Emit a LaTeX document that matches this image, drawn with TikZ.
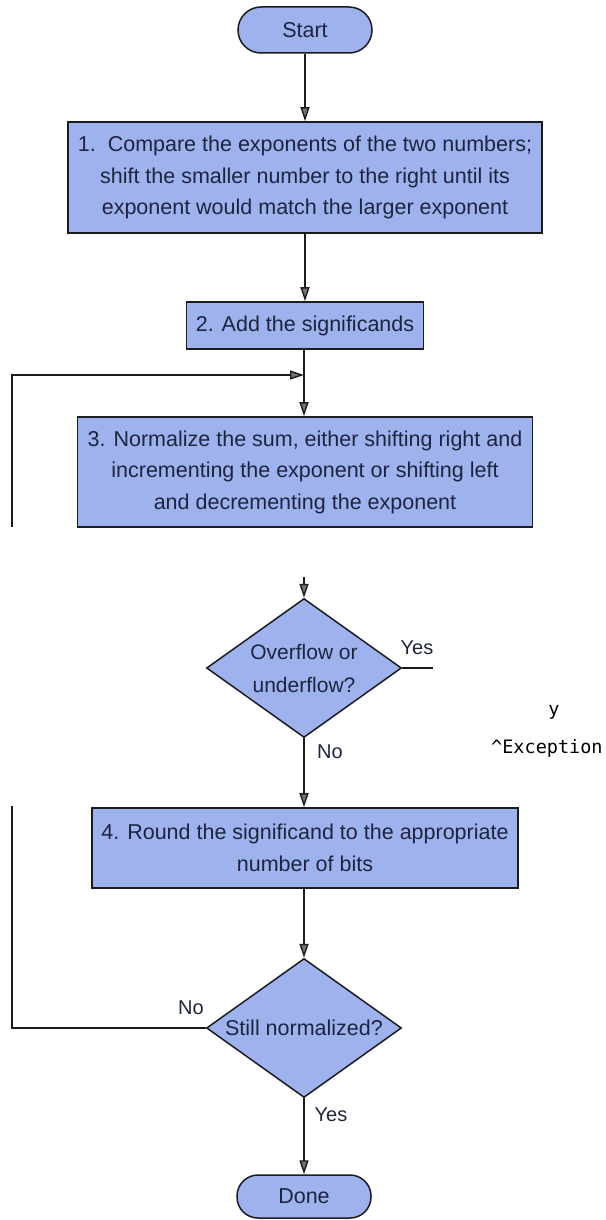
\documentclass[tikz,border=0pt]{standalone}
\usepackage{fontspec}
\setmainfont{Liberation Sans}
\newfontfamily\monofont{DejaVu Sans Mono}
\usetikzlibrary{arrows.meta,shapes.geometric}
\definecolor{boxfill}{RGB}{158,179,238}
\definecolor{ink}{RGB}{30,36,62}
\definecolor{edge}{RGB}{28,28,30}
\tikzset{
  every node/.style={text=ink},
  txt/.style={font=\fontsize{21.5}{31.5}\selectfont},
  pill/.style={txt, draw=edge, line width=1.5pt, fill=boxfill, rounded corners=23pt,
    minimum width=134pt, minimum height=46pt, inner sep=0pt},
  stepbox/.style={txt, draw=edge, line width=1.6pt, fill=boxfill, align=center, inner sep=0pt},
  decision/.style={txt, draw=edge, line width=1.5pt, fill=boxfill, diamond, aspect=1.4,
    align=center, inner sep=0pt, minimum width=195pt, minimum height=139pt},
  conn/.style={draw=edge, line width=1.4pt},
  arr/.style={conn, -{Triangle[width=9pt,length=14pt,fill=black!55]}},
  lbl/.style={font=\fontsize{20}{22}\selectfont, inner sep=0pt},
  mono/.style={font=\monofont\fontsize{18.5}{20}\selectfont, text=black, inner sep=0pt}
}
\begin{document}
\begin{tikzpicture}[x=1pt,y=-1pt]
\path[use as bounding box] (0,0) rectangle (605,1220);

\node[pill] (start) at (305,30) {Start};
\node[stepbox, minimum width=474pt, minimum height=111pt] (b1) at (305,177.5)
  {1.\ \ Compare the exponents of the two numbers;\\shift the smaller number to the right until its\\exponent would match the larger exponent};
\node[stepbox, minimum width=237pt, minimum height=47pt] (b2) at (305,325.5)
  {2. Add the significands};
\node[stepbox, minimum width=455pt, minimum height=110pt] (b3) at (305,472)
  {3. Normalize the sum, either shifting right and\\incrementing the exponent or shifting left\\and decrementing the exponent};
\node[decision, font=\fontsize{21}{33}\selectfont] (d1) at (304,668) {Overflow or\\underflow?};
\node[stepbox, minimum width=426pt, minimum height=80pt] (b4) at (305,848)
  {4. Round the significand to the appropriate\\number of bits};
\node[decision] (d2) at (304,1028) {Still normalized?};
\node[pill, minimum height=43pt, rounded corners=21pt] (done) at (304,1196.5) {Done};

% exception remnants
\node[mono] (ty) at (554,712) {y};
\node[mono, anchor=west] (texc) at (491,748) {\^{}Exception};

% coordinates for broken connectors
\coordinate (stub) at (304,577);
\coordinate (yesend) at (433,668);
\coordinate (lbot) at (12,1028);
\coordinate (ltop) at (12,806);
\coordinate (lseg) at (12,527);
\coordinate (lturn) at (12,375);
\coordinate (join) at (304,375);

\draw[arr] (start) -- (b1);
\draw[arr] (b1.south -| start) -- (b2.north -| start);
\draw[arr] (b2.south -| join) -- (b3.north -| join);
\draw[arr] (stub) -- (d1.north);
\draw[arr] (d1) -- (b4.north -| d1);
\draw[conn] (d1.east) -- (yesend);
\draw[arr] (b4.south -| d2) -- (d2);
\draw[arr] (d2) -- (done);
\draw[conn] (d2.west) -- (lbot) -- (ltop);
\draw[arr] (lseg) -- (lturn) -- (join);

% labels
\node[lbl] (yes1) at (417,648) {Yes};
\node[lbl] (no1) at (330,752) {No};
\node[lbl] (no2) at (191,1008) {No};
\node[lbl] (yes2) at (331,1115) {Yes};
\end{tikzpicture}
\end{document}
